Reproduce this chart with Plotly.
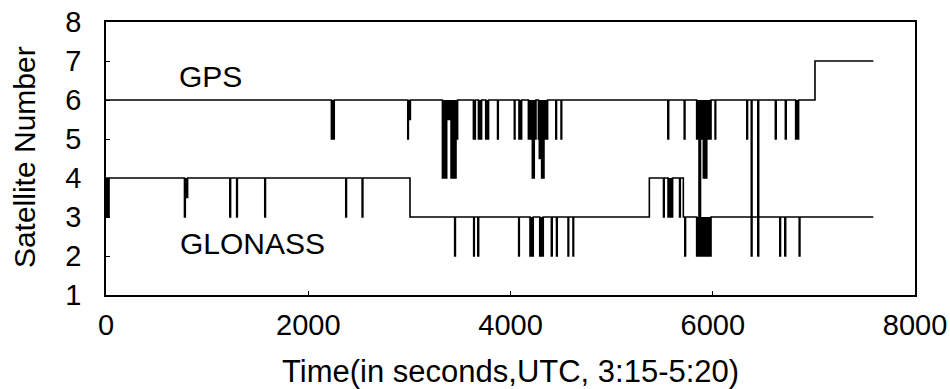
import plotly.graph_objects as go

# ---------------- data ----------------
# baseline level changes (time in seconds, number of satellites)
gps_level_time = [0, 7011]
gps_level_value = [6, 7]
gps_end_time = 7588

glo_level_time = [0, 3006, 5373, 5709]
glo_level_value = [4, 3, 4, 3]
glo_end_time = 7588

# short drops of the satellite count: start time, end time, count during drop
gps_drop_start = [2229, 2984, 2990, 3327, 3369, 3412, 3461, 3633, 3683, 3755, 3872,
                  4038, 4084, 4177, 4216, 4235, 4276, 4285, 4308, 4331, 4448, 4500,
                  5557, 5718, 5841, 5864, 5879, 5907, 5941, 6023, 6337, 6381, 6447,
                  6619, 6718, 6820]
gps_drop_end = [2257, 2990, 3010, 3369, 3412, 3461, 3477, 3652, 3714, 3783, 3879,
                4044, 4110, 4216, 4235, 4252, 4285, 4308, 4331, 4367, 4455, 4506,
                5564, 5725, 5864, 5879, 5907, 5941, 5983, 6029, 6344, 6388, 6454,
                6626, 6725, 6849]
gps_drop_value = [5, 5, 5.5, 4, 5.5, 4, 5, 5, 5, 5, 5,
                  5, 5, 5, 4, 5, 5, 4.5, 4, 5, 5, 5,
                  5, 5, 5, 3, 5, 4, 5, 5, 5, 3, 3,
                  5, 5, 5]

glo_drop_start = [0, 776, 784, 1225, 1292, 1570, 2371, 2533,
                  3448, 3636, 3678, 4081, 4193, 4289, 4404, 4455, 4569, 4618,
                  5513, 5558, 5672,
                  5724, 5841, 6381, 6447, 6663, 6714, 6855]
glo_drop_end = [38, 784, 807, 1232, 1299, 1577, 2378, 2540,
                3455, 3642, 3685, 4087, 4225, 4324, 4411, 4462, 4575, 4624,
                5520, 5603, 5679,
                5731, 5983, 6388, 6454, 6670, 6721, 6862]
glo_drop_value = [3, 3, 3.5, 3, 3, 3, 3, 3,
                  2, 2, 2, 2, 2, 2, 2, 2, 2, 2,
                  3, 3, 3,
                  2, 2, 2, 2, 2, 2, 2]

x_ticks = [0, 2000, 4000, 6000, 8000]
y_ticks = [1, 2, 3, 4, 5, 6, 7, 8]


def base_at(t, lt, lv):
    v = lv[0]
    for tt, vv in zip(lt, lv):
        if t >= tt:
            v = vv
    return v


def build(lt, lv, ds, de, dv, t_end):
    pts = [(t, v, 0) for t, v in zip(lt, lv)]
    for s, e, v in zip(ds, de, dv):
        pts.append((s, v, 1))
        pts.append((e, base_at(e, lt, lv), 2))
    pts.sort(key=lambda p: (p[0], -p[2]))
    xs = [p[0] for p in pts] + [t_end]
    ys = [p[1] for p in pts] + [base_at(t_end, lt, lv)]
    return xs, ys


def drop_bars(lt, lv, ds, de, dv):
    xs, ws, bs, hs = [], [], [], []
    for s, e, v in zip(ds, de, dv):
        b = base_at(s, lt, lv)
        xs.append((s + e) / 2)
        ws.append(e - s)
        bs.append(v)
        hs.append(b - v)
    return xs, ws, bs, hs


gx, gy = build(gps_level_time, gps_level_value, gps_drop_start, gps_drop_end,
               gps_drop_value, gps_end_time)
lx, ly = build(glo_level_time, glo_level_value, glo_drop_start, glo_drop_end,
               glo_drop_value, glo_end_time)

FONT = "Liberation Sans, Arial, sans-serif"

fig = go.Figure()
for lt, lv, ds, de, dv in [
    (gps_level_time, gps_level_value, gps_drop_start, gps_drop_end, gps_drop_value),
    (glo_level_time, glo_level_value, glo_drop_start, glo_drop_end, glo_drop_value),
]:
    bx, bw, bb, bh = drop_bars(lt, lv, ds, de, dv)
    fig.add_trace(go.Bar(x=bx, y=bh, base=bb, width=bw, marker=dict(color="black", line=dict(width=0)),
                         showlegend=False, hoverinfo="skip"))

fig.add_trace(go.Scatter(x=gx, y=gy, mode="lines", line=dict(color="black", width=1.6, shape="hv"),
                         name="GPS", showlegend=False))
fig.add_trace(go.Scatter(x=lx, y=ly, mode="lines", line=dict(color="black", width=1.6, shape="hv"),
                         name="GLONASS", showlegend=False))

fig.add_annotation(x=1038, y=6.59, text="GPS", showarrow=False,
                   font=dict(family=FONT, size=30, color="black"))
fig.add_annotation(x=1444, y=2.33, text="GLONASS", showarrow=False,
                   font=dict(family=FONT, size=30, color="black"))

# axis titles
fig.add_annotation(xref="paper", yref="paper", x=0.5, y=-0.282, yanchor="middle",
                   text="Time(in seconds,UTC, 3:15-5:20)", showarrow=False,
                   font=dict(family=FONT, size=31, color="black"))
fig.add_annotation(xref="paper", yref="paper", x=-0.1014, y=0.505, xanchor="center",
                   yanchor="middle", textangle=-90,
                   text="Satellite Number", showarrow=False,
                   font=dict(family=FONT, size=30, color="black"))

fig.update_layout(
    width=950, height=389,
    margin=dict(l=106, r=35, t=22, b=94, autoexpand=False),
    plot_bgcolor="white", paper_bgcolor="white",
    font=dict(family=FONT, size=29, color="black"),
    barmode="overlay",
    xaxis=dict(range=[0, 8000], tickvals=x_ticks, ticktext=[str(v) for v in x_ticks],
               ticks="inside", ticklen=4, tickcolor="black", showgrid=False, zeroline=False,
               showline=True, linecolor="black", linewidth=1.6, mirror=True, automargin=False,
               tickfont=dict(family=FONT, size=29), ticklabelstandoff=3),
    yaxis=dict(range=[1, 8], tickvals=y_ticks, ticks="inside", ticklen=4, tickcolor="black",
               showgrid=False, zeroline=False, automargin=False,
               showline=True, linecolor="black", linewidth=1.6, mirror=True,
               tickfont=dict(family=FONT, size=29), ticklabelstandoff=17),
)

fig.write_html("out.html", config={"displayModeBar": False},
               post_script="document.body.style.margin='0';document.body.style.overflow='hidden';")
